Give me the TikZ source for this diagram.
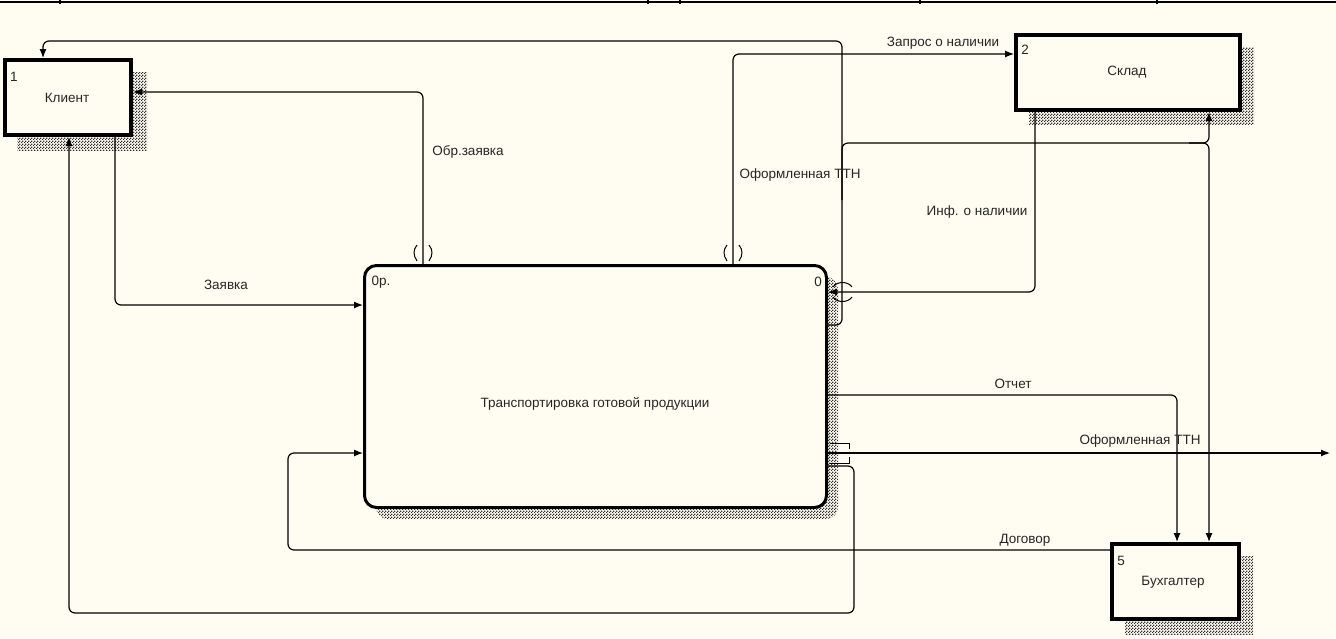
\documentclass[tikz,border=0pt]{standalone}
\usepackage{fontspec}
\setmainfont{Liberation Sans}
\usetikzlibrary{arrows.meta,patterns,calc}
\definecolor{bg}{RGB}{255,253,242}
\pgfdeclarepatternformonly{dither}{\pgfpointorigin}{\pgfpoint{3pt}{3pt}}{\pgfpoint{3pt}{3pt}}{
  \pgfpathrectangle{\pgfpointorigin}{\pgfpoint{1.5pt}{1.5pt}}
  \pgfpathrectangle{\pgfpoint{1.5pt}{1.5pt}}{\pgfpoint{1.5pt}{1.5pt}}
  \pgfusepath{fill}
}
\begin{document}
\begin{tikzpicture}[x=1pt,y=-1pt,
  lbl/.style={font=\fontsize{13.5}{15}\selectfont, inner sep=0pt, text=black!85},
  ext/.style={draw=black, line width=4pt, fill=bg, inner sep=0pt},
  conn/.style={draw=black, line width=1.2pt, rounded corners=6pt},
  arr/.style={-{Latex[length=9pt,width=7pt]}},
  shadowfill/.style={pattern=dither, pattern color=black!80},
  tunnel/.style={draw=black, line width=1pt},
]
\fill[bg] (0,0) rectangle (1336,638);
\useasboundingbox (0,0) rectangle (1336,638);
% top frame line
\draw[line width=1.3pt] (0,2) -- (1336,2);
\foreach \tx in {60,648,680,920,1157} \draw[line width=1.5pt] (\tx,0) -- (\tx,4);
% shadows
\fill[shadowfill] (17,72) rectangle (147,150);
\fill[shadowfill] (1029,47) rectangle (1254,124);
\fill[shadowfill] (1125,556) rectangle (1253,634);
\fill[shadowfill, rounded corners=12pt] (376,277) rectangle (838,519);
% boxes
\node[ext, minimum width=126pt, minimum height=75pt] (klient) at (68,97.5) {};
\node[ext, minimum width=224pt, minimum height=75pt] (sklad) at (1128,72.5) {};
\node[ext, minimum width=127pt, minimum height=75pt] (bukh) at (1175.5,581.5) {};
\node[draw=black, line width=3pt, fill=bg, rounded corners=12pt, inner sep=0pt,
      minimum width=462pt, minimum height=242pt] (main) at (595.5,386.5) {};
% box texts
\node[lbl] (klientT) at (67,98) {Клиент};
\node[lbl] (skladT) at (1127,72) {Склад};
\node[lbl] (bukhT) at (1173,582) {Бухгалтер};
\node[lbl] (mainT) at (595,404) {Транспортировка готовой продукции};
\node[lbl] (n1) at (14,77) {1};
\node[lbl] (n2) at (1025,50) {2};
\node[lbl] (n5) at (1121,561) {5};
\node[lbl] (n0a) at (381,282) {0р.};
\node[lbl] (n0b) at (818,282) {0};
% helper coordinates
\coordinate (z1) at (115,305);
\coordinate (o1) at (423,92);
\coordinate (q1) at (733,54);
\coordinate (t1) at (842,325);
\coordinate (t2) at (43,41);
\coordinate (t3) at (1209,143);
\coordinate (t4) at (842,200);
\coordinate (i1) at (1035,292);
\coordinate (r1) at (1177,395);
\coordinate (f1) at (1330,453);
\coordinate (k1) at (854,466);
\coordinate (k2) at (69,613);
\coordinate (d1) at (288,550);
\coordinate (d2) at (288,453);
% connectors
\draw[conn,arr] (klient.south -| z1) |- (main.west |- z1);
\draw[conn,arr] (main.north -| o1) |- (klient.east |- o1);
\draw[conn,arr] (main.north -| q1) |- (sklad.west |- q1);
\draw[conn,arr] (main.east |- t1) -- (t1) |- (t2) -- (klient.north -| t2);
\draw[conn,arr] (t4) |- (t3) -- (sklad.south -| t3);
\draw[conn,arr] ($(t3)+(-20,0)$) -- (t3) -- (bukh.north -| t3);
\draw[conn,arr] (sklad.south -| i1) |- (main.east |- i1);
\draw[conn,arr] (main.east |- r1) -| (bukh.north -| r1);
\draw[conn,arr] (main.east |- f1) -- (f1);
\draw[conn,arr] (main.east |- k1) -- (k1) |- (k2) -- (klient.south -| k2);
\draw[conn,arr] (bukh.west |- d1) -| (d2) -- (main.west |- d2);
% tunnels
\draw[tunnel] (417,245) .. controls (413,250) and (413,255) .. (417,261);
\draw[tunnel] (429,245) .. controls (433,250) and (433,255) .. (429,261);
\draw[tunnel] (727,245) .. controls (723,250) and (723,255) .. (727,261);
\draw[tunnel] (739,245) .. controls (743,250) and (743,255) .. (739,261);
\draw[tunnel] (833,287) .. controls (837,281) and (848,281) .. (852,287);
\draw[tunnel] (833,297) .. controls (837,303) and (848,303) .. (852,297);
\draw[tunnel] (830,443) -- (849,443) -- (849,449);
\draw[tunnel] (849,457) -- (849,463) -- (830,463);
% labels
\node[lbl] (lz) at (226,285) {Заявка};
\node[lbl] (lo) at (468,152) {Обр.заявка};
\node[lbl] (lq) at (943,43) {Запрос о наличии};
\node[lbl] (lt) at (800,175) {Оформленная ТТН};
\node[lbl] (li) at (977,212) {Инф. о наличии};
\node[lbl] (lr) at (1013,384) {Отчет};
\node[lbl] (lf) at (1140,441) {Оформленная ТТН};
\node[lbl] (ld) at (1025,540) {Договор};
\end{tikzpicture}
\end{document}
